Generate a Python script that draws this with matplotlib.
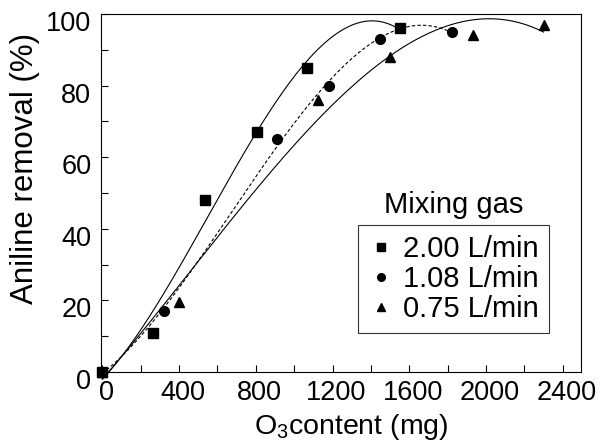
import numpy as np
import matplotlib.pyplot as plt
import matplotlib.transforms as mtransforms
from matplotlib.lines import Line2D
from matplotlib.ticker import MultipleLocator

plt.rcParams['font.family'] = ['Liberation Sans', 'DejaVu Sans']
plt.rcParams['mathtext.default'] = 'regular'

# data
x_200 = [0, 266, 536, 805, 1069, 1553]
y_200 = [0, 11, 48, 67, 85, 96]
x_108 = [0, 323, 913, 1179, 1445, 1822]
y_108 = [0, 17, 65, 80, 93, 95]
x_075 = [0, 402, 1125, 1500, 1930, 2300]
y_075 = [0, 19.5, 76, 88, 94, 97]
labels = ['2.00 L/min', '1.08 L/min', '0.75 L/min']

W, H = 604, 446
fig = plt.figure(figsize=(W / 100, H / 100), dpi=100)
ax = fig.add_axes([101 / W, 1 - 372 / H, 480 / W, 358 / H])

series = [(x_200, y_200, 's', '-'), (x_108, y_108, 'o', '--'), (x_075, y_075, '^', '-')]
for xs, ys, mk, ls in series:
    coef = np.polyfit(xs, ys, 3)
    xf = np.linspace(0, max(xs), 200)
    ax.plot(xf, np.polyval(coef, xf), color='k', lw=0.8, ls=ls,
            dashes=(3, 2) if ls == '--' else (None, None), clip_on=False)
    ax.plot(xs, ys, ls='none', marker=mk, color='k', ms=7.5 if mk != 'o' else 7,
            clip_on=False, zorder=3)

ax.set_xlim(-7, 2495)
ax.set_ylim(0, 100)
ax.xaxis.set_major_locator(MultipleLocator(400))
ax.xaxis.set_minor_locator(MultipleLocator(200))
ax.yaxis.set_major_locator(MultipleLocator(20))
ax.yaxis.set_minor_locator(MultipleLocator(10))
ax.tick_params(which='both', direction='in', labelsize=19.5, width=0.8, length=5)
ax.tick_params(axis='x', pad=6)
ax.tick_params(axis='y', pad=7)
for s in ax.spines.values():
    s.set_linewidth(0.8)

# tick labels sit a little off their ticks in the original
for lab in ax.get_xticklabels():
    lab.set_transform(lab.get_transform() + mtransforms.ScaledTranslation(0.04, 0, fig.dpi_scale_trans))
for lab in ax.get_yticklabels():
    lab.set_transform(lab.get_transform() + mtransforms.ScaledTranslation(0, -0.07, fig.dpi_scale_trans))

fig.text(351 / W, 1 - 427 / H, 'O$_3$content (mg)', ha='center', va='center', fontsize=20.5)
fig.text(25 / W, 1 - 168 / H, 'Aniline removal (%)', ha='center', va='center',
         rotation=90, fontsize=22.5)

handles = [Line2D([], [], ls='none', marker=m, color='k', ms=5.5) for m in ['s', 'o', '^']]
leg = ax.legend(handles, labels, loc='upper right', bbox_to_anchor=((549 - 101) / 480, (372 - 225) / 358),
                borderaxespad=0, fontsize=21, frameon=True, fancybox=False, edgecolor='k',
                handletextpad=0.3, handlelength=0.9, borderpad=0.35, labelspacing=0.06)
leg.get_frame().set_linewidth(0.8)
ax.text((454 - 101) / 480, (372 - 205) / 358, 'Mixing gas', transform=ax.transAxes,
        ha='center', va='center', fontsize=21)

fig.savefig('out.png', dpi=100)
